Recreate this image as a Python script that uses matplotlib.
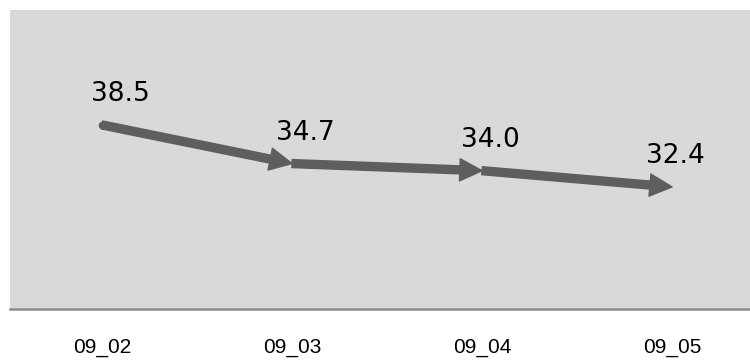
import numpy as np
import matplotlib
matplotlib.use("Agg")
from matplotlib import pyplot as plt
from matplotlib import transforms

# Data
kategoriar = ['09_02', '09_03', '09_04', '09_05']
verdiar = [38.5, 34.7, 34.0, 32.4]
etikettar = ['38.5', '34.7', '34.0', '32.4']

x = np.arange(len(kategoriar))

fig = plt.figure(figsize=(7.5, 3.6), dpi=100)
ax = fig.add_axes([10/750, 51/360, 740/750, 299/360])
ax.set_facecolor('#d9d9d9')

# Arrows between the points
for i in range(len(x) - 1):
    ax.annotate('', xy=(x[i+1], verdiar[i+1]), xytext=(x[i], verdiar[i]),
                arrowprops=dict(arrowstyle='simple,head_length=1.0,head_width=1.0,tail_width=0.36',
                                color='#5e5e5e', shrinkA=0, shrinkB=0,
                                mutation_scale=16))
# Round start of the first arrow
ax.plot(x[0], verdiar[0], 'o', color='#5e5e5e', markersize=4.5)

# Value labels
trans = transforms.blended_transform_factory(ax.transAxes, ax.transData)
for i, (v, t) in enumerate(zip(verdiar, etikettar)):
    ax.annotate(t, xy=((i + 0.5)/len(x) + 18/740, v), xycoords=trans,
                xytext=(0, 22), textcoords='offset points',
                ha='center', va='center', fontsize=19, family='DejaVu Sans',
                color='black')

ax.set_xlim(-0.484, 3.41)
ax.set_ylim(20.4, 49.8)
ax.set_xticks(x)
ax.set_xticklabels(kategoriar, family='Liberation Sans', fontsize=15)
ax.tick_params(axis='x', length=0, pad=21)
ax.set_yticks([])
for s in ['top', 'right', 'left']:
    ax.spines[s].set_visible(False)
ax.spines['bottom'].set_color('#8c8c8c')
ax.spines['bottom'].set_linewidth(1.8)

fig.savefig('out.png', dpi=100)
